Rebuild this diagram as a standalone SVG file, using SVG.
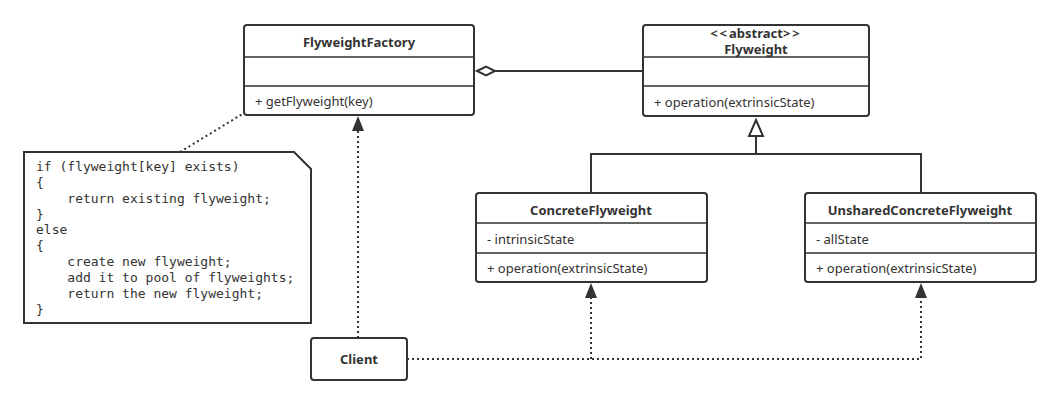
<svg xmlns="http://www.w3.org/2000/svg" width="1060" height="404" viewBox="0 0 1060 404">
<style>
.box{fill:#fff;stroke:#333;stroke-width:2}
.div{stroke:#333;stroke-width:1.5}
.t{font-family:"Noto Sans","Open Sans",sans-serif;font-size:13px;fill:#333}
.b{font-weight:bold;text-anchor:middle}
.code{font-family:"DejaVu Sans Mono","Liberation Mono",monospace;font-size:13px;fill:#333;white-space:pre}
.solid{fill:none;stroke:#333;stroke-width:2}
.dot{fill:none;stroke:#333;stroke-width:2;stroke-dasharray:2 3}
</style>
<rect width="1060" height="404" fill="#fff"/>
<g id="connectors">
<path class="solid" d="M495 71 H643"/>
<path d="M477 71 L486 66.5 L495 71 L486 75.5 Z" fill="#fff" stroke="#333" stroke-width="2"/>
<path class="solid" d="M756 136 V154 M591 193 V154 H921 V193"/>
<path d="M756 120 L763 136 L749 136 Z" fill="#fff" stroke="#333" stroke-width="2"/>
<path class="dot" d="M180 152 L244 113"/>
<path class="dot" d="M358 338 V130"/>
<path d="M358 116 L364 131 L352 131 Z" fill="#333"/>
<path class="dot" d="M407 359 H921 V297 M591 359 V297"/>
<path d="M591 283 L597 298 L585 298 Z" fill="#333"/>
<path d="M921 283 L927 298 L915 298 Z" fill="#333"/>
</g>
<g id="FlyweightFactory">
<rect class="box" x="244" y="25" width="230" height="90" rx="3"/>
<path class="div" d="M244 57 H474 M244 86 H474"/>
<text class="t b" x="359" y="47">FlyweightFactory</text>
<text class="t" x="255" y="106">+ getFlyweight(key)</text>
</g>
<g id="Flyweight">
<rect class="box" x="643" y="25" width="226" height="91" rx="3"/>
<path class="div" d="M643 57 H869 M643 86 H869"/>
<text class="t b" x="756" y="38" font-size="12"><tspan letter-spacing="2">&lt;&lt;</tspan>abstract<tspan letter-spacing="2">&gt;&gt;</tspan></text>
<text class="t b" x="756" y="54">Flyweight</text>
<text class="t" x="654" y="107">+ operation(extrinsicState)</text>
</g>
<g id="ConcreteFlyweight">
<rect class="box" x="476" y="193" width="231" height="89" rx="3"/>
<path class="div" d="M476 223 H707 M476 253 H707"/>
<text class="t b" x="591" y="215">ConcreteFlyweight</text>
<text class="t" x="487" y="244">- intrinsicState</text>
<text class="t" x="487" y="273">+ operation(extrinsicState)</text>
</g>
<g id="UnsharedConcreteFlyweight">
<rect class="box" x="805" y="193" width="231" height="89" rx="3"/>
<path class="div" d="M805 223 H1036 M805 253 H1036"/>
<text class="t b" x="920" y="215">UnsharedConcreteFlyweight</text>
<text class="t" x="816" y="244">- allState</text>
<text class="t" x="816" y="273">+ operation(extrinsicState)</text>
</g>
<g id="Client">
<rect class="box" x="311" y="338" width="96" height="42" rx="3"/>
<text class="t b" x="359" y="364">Client</text>
</g>
<g id="note">
<path class="box" d="M24 152 H294 L311 169 V323 H24 Z"/>
<text class="code" x="36" y="171">if (flyweight[key] exists)</text>
<text class="code" x="36" y="187">{</text>
<text class="code" x="36" y="203">    return existing flyweight;</text>
<text class="code" x="36" y="219">}</text>
<text class="code" x="36" y="234">else</text>
<text class="code" x="36" y="250">{</text>
<text class="code" x="36" y="266">    create new flyweight;</text>
<text class="code" x="36" y="282">    add it to pool of flyweights;</text>
<text class="code" x="36" y="298">    return the new flyweight;</text>
<text class="code" x="36" y="314">}</text>
</g>
</svg>
